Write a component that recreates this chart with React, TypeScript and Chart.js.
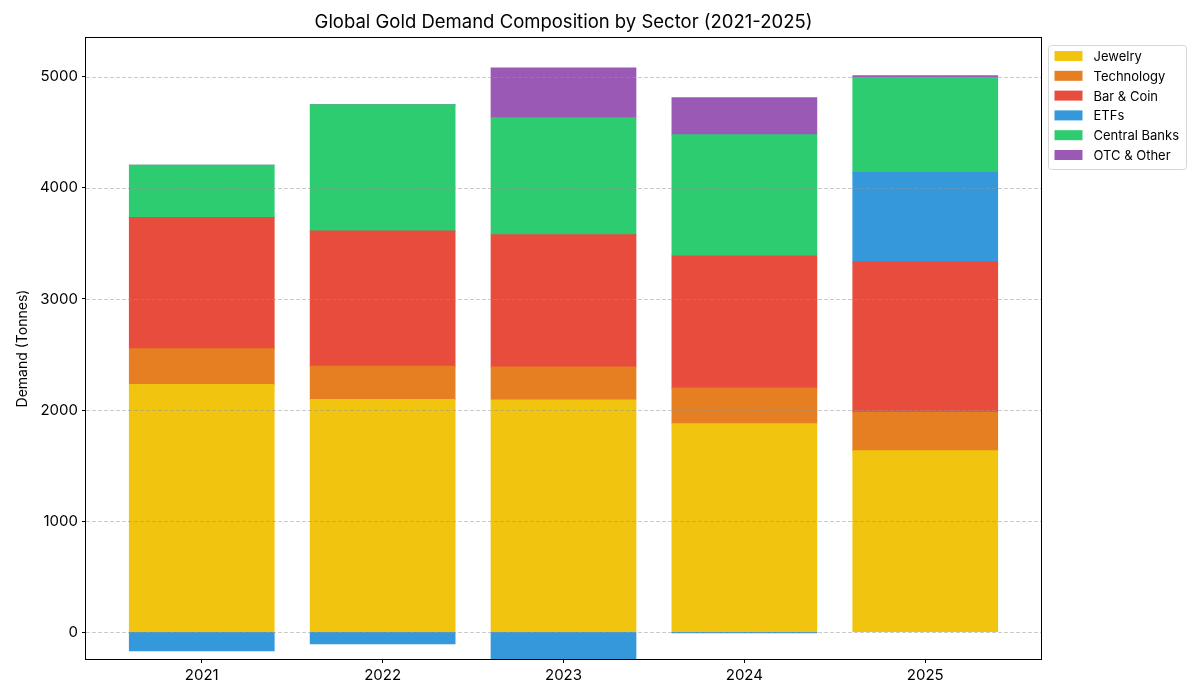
import React, { useEffect, useRef } from "react";
import { Chart, registerables } from "chart.js";

Chart.register(...registerables);

// Gold demand by sector, tonnes
const years = ["2021", "2022", "2023", "2024", "2025"];
const jewelry = [2230, 2095, 2090, 1877, 1632];
const technology = [322, 300, 298, 322, 347];
const barCoin = [1183, 1218, 1190, 1189, 1354];
const etfs = [-168, -106, -300, -6, 807];
const centralBanks = [470, 1137, 1054, 1092, 856];
const otcOther = [0, 0, 449, 333, 15];

const sectorLabels = ["Jewelry", "Technology", "Bar & Coin", "ETFs", "Central Banks", "OTC & Other"];
const sectorColors = ["#f1c40f", "#e67e22", "#e74c3c", "#3498db", "#2ecc71", "#9b59b6"];
const sectorValues = [jewelry, technology, barCoin, etfs, centralBanks, otcOther];

const yTicks = [0, 1000, 2000, 3000, 4000, 5000];
const chartTitle = "Global Gold Demand Composition by Sector (2021-2025)";
const yAxisTitle = "Demand (Tonnes)";

const FONT = "Inter, 'DejaVu Sans', sans-serif";

// Dashed grid over the bars, frame, title and legend box
const overlayPlugin = {
  id: "overlay",
  afterDatasetsDraw(chart: any) {
    const { ctx, chartArea: a, scales } = chart;
    const ys = scales.y;
    ctx.save();
    ctx.strokeStyle = "rgba(150,150,150,0.5)";
    ctx.lineWidth = 1;
    ctx.setLineDash([4, 2]);
    for (const t of yTicks) {
      const py = Math.round(ys.getPixelForValue(t)) + 0.5;
      ctx.beginPath();
      ctx.moveTo(a.left, py);
      ctx.lineTo(a.right, py);
      ctx.stroke();
    }
    ctx.setLineDash([]);
    ctx.strokeStyle = "#000";
    ctx.strokeRect(a.left - 0.5, a.top - 0.5, a.right - a.left + 1, a.bottom - a.top + 1);
    ctx.restore();
  },
  afterDraw(chart: any) {
    const { ctx, chartArea: a } = chart;
    ctx.save();
    // title
    ctx.fillStyle = "#000";
    ctx.font = `18.5px ${FONT}`;
    ctx.textAlign = "center";
    ctx.textBaseline = "middle";
    ctx.fillText(chartTitle, (a.left + a.right) / 2, 22);

    // legend
    const bx = a.right + 7.5;
    const by = 45.5;
    const bw = 138;
    const bh = 124;
    ctx.beginPath();
    ctx.roundRect(bx, by, bw, bh, 3);
    ctx.fillStyle = "rgba(255,255,255,0.85)";
    ctx.fill();
    ctx.strokeStyle = "#d6d6d6";
    ctx.lineWidth = 1;
    ctx.stroke();
    ctx.font = `13px ${FONT}`;
    ctx.textAlign = "left";
    chart.data.datasets.forEach((ds: any, i: number) => {
      const cy = 56 + i * 19.8;
      ctx.fillStyle = ds.backgroundColor;
      ctx.fillRect(bx + 6, cy - 5, 28, 10);
      ctx.fillStyle = "#000";
      ctx.fillText(ds.label, bx + 45, cy + 1);
    });
    ctx.restore();
  },
};

export default function App() {
  const canvasRef = useRef<HTMLCanvasElement | null>(null);

  useEffect(() => {
    const canvas = canvasRef.current;
    if (!canvas) return;
    const chart = new Chart(canvas, {
      type: "bar",
      data: {
        datasets: sectorLabels.map((label, i) => ({
          label,
          data: sectorValues[i].map((v, j) => ({ x: j, y: v })),
          backgroundColor: sectorColors[i],
          borderWidth: 0,
          inflateAmount: 0.5,
          categoryPercentage: 0.8,
          barPercentage: 1,
        })),
      },
      options: {
        animation: false,
        responsive: false,
        devicePixelRatio: 1,
        layout: { padding: { left: 14, right: 159, top: 38, bottom: 0 } },
        plugins: {
          legend: { display: false },
          title: { display: false },
          tooltip: { enabled: false },
        },
        scales: {
          x: {
            type: "linear",
            stacked: true,
            min: -0.64,
            max: 4.64,
            offset: false,
            afterBuildTicks: (scale: any) => {
              scale.ticks = years.map((_, i) => ({ value: i }));
            },
            afterFit: (scale: any) => {
              scale.height = 41;
            },
            ticks: {
              callback: (v: any) => years[v] ?? "",
              color: "#000",
              font: { family: FONT, size: 15 },
              padding: 3,
              maxRotation: 0,
            },
            grid: {
              offset: false,
              drawOnChartArea: false,
              drawTicks: true,
              tickLength: 4,
              tickColor: "#000",
            },
            border: { display: false },
          },
          y: {
            type: "linear",
            stacked: true,
            min: -243,
            max: 5351,
            afterBuildTicks: (scale: any) => {
              scale.ticks = yTicks.map((v) => ({ value: v }));
            },
            afterFit: (scale: any) => {
              scale.width = 72;
            },
            ticks: {
              callback: (v: any) => String(v),
              color: "#000",
              font: { family: FONT, size: 15 },
              padding: 4,
            },
            grid: {
              drawOnChartArea: false,
              drawTicks: true,
              tickLength: 4,
              tickColor: "#000",
            },
            border: { display: false },
            title: {
              display: true,
              text: yAxisTitle,
              color: "#000",
              font: { family: FONT, size: 14 },
              padding: 0,
            },
          },
        },
      },
      plugins: [overlayPlugin],
    });
    return () => chart.destroy();
  }, []);

  return (
    <div style={{ position: "fixed", left: 0, top: 0, width: 1200, height: 700, background: "#fff" }}>
      <canvas ref={canvasRef} width={1200} height={700} />
    </div>
  );
}
